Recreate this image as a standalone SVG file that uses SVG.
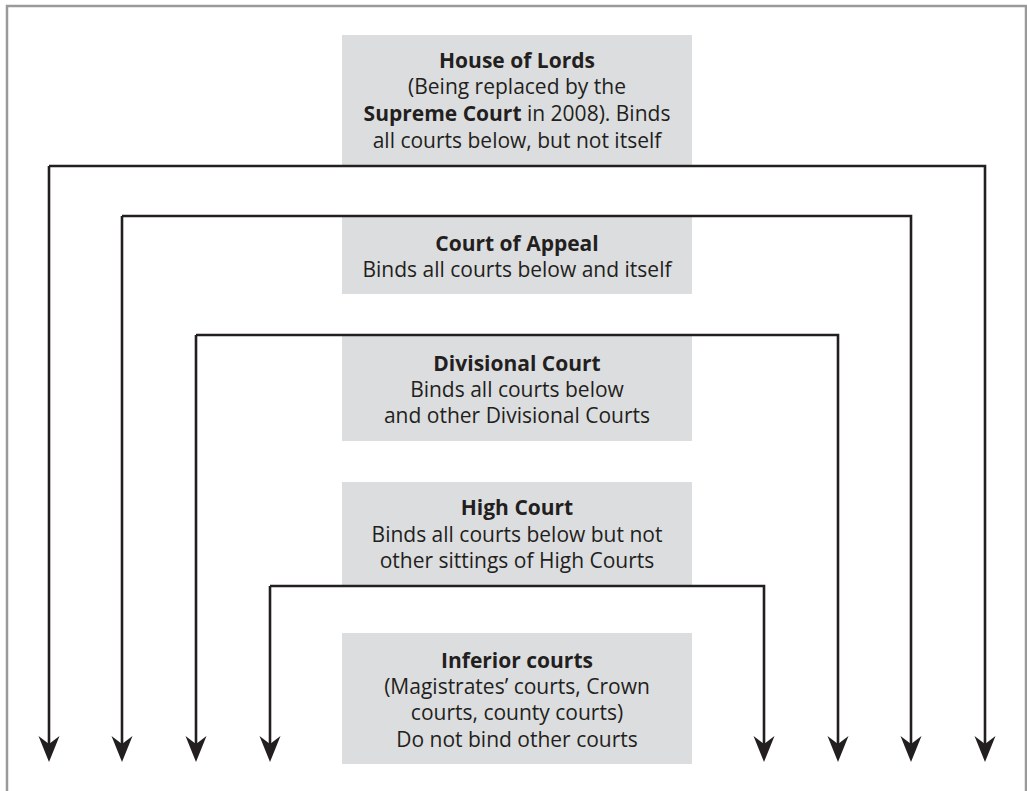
<svg xmlns="http://www.w3.org/2000/svg" width="1027" height="791" viewBox="0 0 1027 791">
<style>
.box{fill:#dcdddf}
.t{font-family:"Open Sans","Liberation Sans",sans-serif;font-size:21px;fill:#231f20;text-anchor:middle}
.b{font-weight:bold}
.c{fill:none;stroke:#231f20;stroke-width:2.6}
</style>
<defs>
<marker id="ah" markerUnits="userSpaceOnUse" markerWidth="30" markerHeight="30" refX="0" refY="0" viewBox="-10 -13 30 26" orient="auto" overflow="visible">
<polygon points="18,0 -8,-10.5 0,0 -8,10.5" fill="#231f20"/>
</marker>
</defs>
<rect x="7" y="6" width="1019" height="800" fill="#fff" stroke="#9a9a9a" stroke-width="2.5"/>
<g id="house-of-lords">
<rect class="box" x="342" y="35" width="350" height="131"/>
<text class="t" x="517" y="68"><tspan class="b">House of Lords</tspan></text>
<text class="t" x="517" y="94">(Being replaced by the</text>
<text class="t" x="517" y="121"><tspan class="b">Supreme Court</tspan> in 2008). Binds</text>
<text class="t" x="517" y="148">all courts below, but not itself</text>
</g>
<g id="court-of-appeal">
<rect class="box" x="342" y="216" width="350" height="78"/>
<text class="t b" x="517" y="251">Court of Appeal</text>
<text class="t" x="517" y="277">Binds all courts below and itself</text>
</g>
<g id="divisional-court">
<rect class="box" x="342" y="335" width="350" height="106"/>
<text class="t b" x="517" y="371">Divisional Court</text>
<text class="t" x="517" y="397">Binds all courts below</text>
<text class="t" x="517" y="423">and other Divisional Courts</text>
</g>
<g id="high-court">
<rect class="box" x="342" y="482" width="350" height="104"/>
<text class="t b" x="517" y="515">High Court</text>
<text class="t" x="517" y="542">Binds all courts below but not</text>
<text class="t" x="517" y="568">other sittings of High Courts</text>
</g>
<g id="inferior-courts">
<rect class="box" x="342" y="633" width="350" height="131"/>
<text class="t b" x="517" y="668">Inferior courts</text>
<text class="t" x="517" y="694">(Magistrates’ courts, Crown</text>
<text class="t" x="517" y="720">courts, county courts)</text>
<text class="t" x="517" y="747">Do not bind other courts</text>
</g>
<g id="connectors">
<path class="c" d="M49,166 V744" marker-end="url(#ah)"/>
<path class="c" d="M49,166 H985 V744" marker-end="url(#ah)"/>
<path class="c" d="M122,216 V744" marker-end="url(#ah)"/>
<path class="c" d="M122,216 H911 V744" marker-end="url(#ah)"/>
<path class="c" d="M196,335 V744" marker-end="url(#ah)"/>
<path class="c" d="M196,335 H838 V744" marker-end="url(#ah)"/>
<path class="c" d="M270,586 V744" marker-end="url(#ah)"/>
<path class="c" d="M270,586 H764 V744" marker-end="url(#ah)"/>
</g>
</svg>
